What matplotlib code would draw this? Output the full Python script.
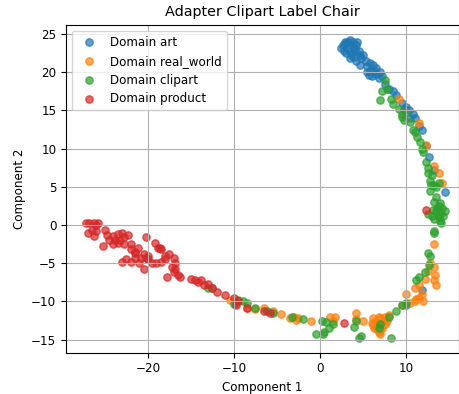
import numpy as np
import matplotlib
matplotlib.use('Agg')
import matplotlib.pyplot as plt

# %% data (approximate)
art_x = [2.5, 3.0, 3.2, 3.5, 3.8, 4.2, 2.8, 3.3, 3.7, 4.0, 4.5, 3.0, 3.5, 4.2, 4.8, 4.6, 5.5, 5.8,
         6.2, 6.5, 5.5, 6.0, 7.0, 7.2, 6.5, 5.8, 4.3, 2.7, 3.9, 4.6, 5.3, 5.7, 6.8, 7.5, 8.0, 8.5,
         8.8, 9.5, 10.0, 10.3, 10.8, 11.0, 11.5, 11.8, 12.3, 12.7, 13.2, 14.5, 11.8, 10.0, 9.8, 10.5,
         3.4, 4.1, 2.9, 3.6, 5.0, 6.3]
art_y = [23.2, 23.8, 24.0, 24.2, 23.9, 23.5, 22.8, 23.0, 22.5, 22.0, 22.8, 22.5, 21.8, 21.5, 21.8,
         21.0, 20.8, 21.2, 21.0, 20.5, 20.0, 19.5, 20.0, 19.5, 19.8, 20.2, 23.9, 23.5, 23.2, 22.3,
         21.4, 19.6, 19.3, 18.5, 17.8, 17.5, 17.0, 16.0, 15.5, 15.0, 14.5, 14.0, 13.0, 12.5, 10.4,
         8.9, 7.2, 4.3, -8.5, -10.5, 15.2, 14.0,
         23.5, 22.9, 24.0, 22.2, 22.3, 20.2]

real_x = [9.2, 11.5, 12.3, 13.3, 13.8, 14.2, 13.3, 12.8, 13.2, 13.4, 13.2, 13.5, 12.5, 12.2, 11.5,
          11.0, 10.0, 11.8, 11.5, 11.0, 10.5, 9.5, 12.0, 11.2, 8.0, 7.5, 7.0, 6.5, 6.0, 6.3, 6.8,
          7.2, 7.5, 6.8, 6.5, 7.0, 7.2, 5.0, 4.2, 4.2, 1.2, 1.5, -1.0, -2.8, -3.0, -3.5, -4.5,
          -5.5, -6.5, -7.5, -8.5, -10.5, -9.8, -2.5, 1.8, 7.0, 6.2,
          6.6, 7.4, 6.9, 6.2, 7.8]
real_y = [16.5, 13.3, 10.5, 7.7, 6.8, 5.5, -2.5, -5.0, -5.5, -6.5, -7.2, -7.8, -6.0, -7.0, -7.8,
          -8.3, -9.0, -9.0, -9.5, -10.0, -10.2, -10.5, -10.0, -9.7, -11.8, -12.0, -12.2, -12.5,
          -12.8, -13.5, -14.0, -13.5, -13.0, -12.8, -13.2, -13.8, -12.7, -12.5, -11.5, -12.3,
          -12.0, -12.5, -12.5, -12.4, -12.0, -12.2, -11.7, -11.2, -10.8, -11.0, -10.8, -9.8,
          -10.2, -12.2, -12.1, -14.2, -12.2,
          -13.6, -12.4, -12.0, -13.1, -12.6]

clip_x = [7.5, 7.2, 7.8, 7.0, 8.2, 8.5, 9.2, 9.5, 9.8, 9.5, 10.0, 10.5, 10.8, 11.0, 11.3, 11.6,
          11.8, 12.0, 12.3, 12.6, 12.5, 13.0, 12.8, 13.2, 13.8, 13.5, 12.8, 13.5, 13.2, 13.8, 14.2,
          13.5, 14.0, 13.8, 14.5, 14.0, 13.0, 12.5, 13.3, 14.3, 13.6, 13.2, 13.2, 12.5, 12.8, 12.7,
          12.2, 11.5, 11.2, 10.0, 9.5, 8.8, 8.0, 7.0, 6.8, 8.2, 4.5, 4.8, 4.0, 4.2, 1.5, 1.0, 0.5,
          0.3, -0.5, 0.2, -2.0, -3.2, -5.5, -6.2, -7.5, -8.5, -9.0, -9.5, -10.0, -13.0, -12.5, 0.7,
          13.9, 13.1, 14.1, 12.9]
clip_y = [19.0, 17.5, 17.8, 16.3, 16.5, 15.8, 15.2, 14.5, 13.8, 14.2, 14.8, 13.5, 12.5, 12.2, 11.5,
          10.8, 10.0, 9.5, 8.2, 7.5, 6.8, 6.5, 5.8, 5.2, 5.5, 5.0, 4.5, 3.7, 3.0, 2.5, 2.2, 1.8,
          1.5, 1.0, 1.8, 0.5, 1.2, 1.5, 0.8, 1.2, 2.2, -0.8, -1.0, -3.7, -4.0, -5.2, -6.2, -6.8,
          -7.2, -10.2, -10.5, -11.2, -12.0, -13.0, -13.5, -14.8, -14.8, -14.5, -13.3, -12.5,
          -13.0, -13.5, -14.0, -14.3, -14.2, -12.5, -12.3, -12.0, -11.5, -11.2, -10.8, -10.2,
          -10.0, -9.8, -10.3, -8.2, -8.3, -12.7,
          2.9, 2.0, 0.3, 5.3]

prod_x = [-27.2, -26.8, -26.3, -26.0, -25.8, -27.0, -26.5, -26.0, -26.2, -25.0, -24.8, -25.2, -24.0,
          -23.5, -23.0, -22.8, -22.3, -23.2, -23.8, -22.8, -24.5, -22.0, -22.0, -21.5, -21.2,
          -20.5, -20.0, -20.8, -21.0, -19.5, -18.5, -18.0, -17.5, -17.0, -17.2, -16.8, -17.0,
          -16.5, -17.8, -16.8, -16.3, -20.5, -19.2, -18.6, -20.2, -18.8, -18.5, -22.5, -23.0,
          -22.0, -21.5, -20.0, -19.0, -18.0, -21.5, -23.5, -15.0, -14.5, -14.2, -13.8, -13.5,
          -13.0, -12.5, -12.0, -11.0, -10.0, -9.5, -9.8, -8.5, -6.5, -5.8, 2.8, 12.3, -20.2, -24.0]
prod_y = [0.2, 0.3, 0.2, 0.0, 0.2, -1.0, -0.7, -0.8, -1.5, -0.7, -1.3, -2.7, -1.5, -1.2, -1.0, -1.6,
          -1.3, -2.0, -2.0, -2.5, -2.0, -2.5, -3.2, -3.5, -3.0, -3.8, -4.0, -4.3, -5.0, -5.0, -4.8,
          -4.5, -3.8, -4.3, -5.5, -5.8, -6.2, -6.5, -6.8, -5.0, -6.8, -5.7, -2.3, -3.0, -1.6, -3.0,
          -3.2, -4.5, -4.8, -4.8, -4.3, -4.5, -5.0, -4.0, -3.7, -2.3, -7.0, -7.2, -7.5, -7.2, -7.8,
          -7.7, -8.2, -8.7, -9.2, -9.5, -10.0, -10.5, -10.8, -11.2, -11.5, -12.8, 2.0, -4.3, -2.5]

domains = ['art', 'real_world', 'clipart', 'product']
xs = [art_x, real_x, clip_x, prod_x]
ys = [art_y, real_y, clip_y, prod_y]

# %% plot
plt.rcParams['font.size'] = 8.6

fig = plt.figure(figsize=(4.59, 3.94), dpi=100)
ax = fig.add_axes([0.144, 0.105, 0.855, 0.832])

for name, x, y in zip(domains, xs, ys):
    ax.scatter(x, y, s=28, alpha=0.7, label='Domain ' + name)

ax.grid(True)
ax.set_xlim(-29.5, 16.1)
ax.set_ylim(-16.7, 26.2)
ax.set_title('Adapter Clipart Label Chair')
ax.set_xlabel('Component 1')
ax.set_ylabel('Component 2')
ax.legend(loc='upper left')

fig.savefig('out.png', dpi=100)
